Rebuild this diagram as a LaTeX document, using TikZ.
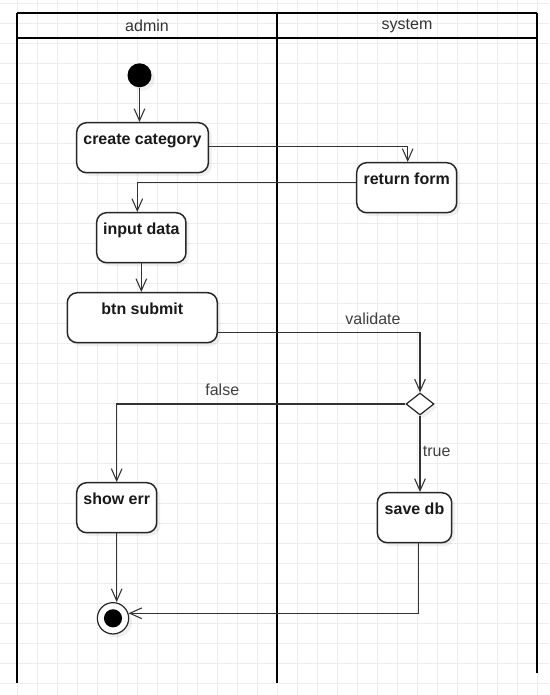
\documentclass[tikz,border=0pt]{standalone}
\usepackage{fontspec}
\setmainfont{Liberation Sans}
\usetikzlibrary{arrows.meta,shapes.geometric,shadows,calc}

\tikzset{every picture/.style={line width=0.75pt}}
\tikzset{
	gridline/.style={draw=black!7, line width=0.75pt},
	lane/.style={draw=black, line width=1.6pt},
	lanetext/.style={font=\fontsize{12}{14}\selectfont, text=black!80},
	act/.style={draw=black!85, fill=white, line width=1.1pt, rounded corners=7.5pt, inner sep=0pt,
		text height=16pt, text depth=21.5pt, font=\fontsize{12}{14}\selectfont\bfseries, text=black!90,
		drop shadow={shadow xshift=2.5pt, shadow yshift=-2.5pt, fill=black, opacity=0.06}},
	flow/.style={draw=black!80, line width=0.8pt, -{Straight Barb[length=9pt,width=8pt,line width=0.8pt]}},
	guard/.style={font=\fontsize{12}{14}\selectfont, text=black!75}
}

\begin{document}
\begin{tikzpicture}[x=0.75pt,y=0.75pt,yscale=-1,xscale=1]
	\useasboundingbox (0,0) rectangle (549,695);
	\fill[white] (0,0) rectangle (549,695);

	% grid
	\foreach \gx in {17.3,37.3,...,549} \draw[gridline] (\gx,0) -- (\gx,695);
	\foreach \gy in {3.3,23.3,...,695} \draw[gridline] (0,\gy) -- (549,\gy);

	% swimlanes
	\draw[lane] (17,13.3) -- (537,13.3);
	\draw[lane] (17,38.3) -- (537,38.3);
	\draw[lane] (17,13.3) -- (17,683);
	\draw[lane] (277,13.3) -- (277,683);
	\draw[lane] (537,13.3) -- (537,673);
	\node[lanetext] (adminlane) at (147,25.8) {admin};
	\node[lanetext] (systemlane) at (407,25.8) {system};

	% start / end
	\node[circle, fill=black, minimum size=18pt, inner sep=0pt,
		drop shadow={shadow xshift=2.5pt, shadow yshift=-2.5pt, fill=black, opacity=0.06}] (start) at (139.5,75.3) {};
	\node[circle, draw=black!85, fill=white, line width=0.9pt, minimum size=23.5pt, inner sep=0pt,
		drop shadow={shadow xshift=2.5pt, shadow yshift=-2.5pt, fill=black, opacity=0.06},
		path picture={\fill[black] (path picture bounding box.center) circle (6.8pt);}] (finish) at (113,618.3) {};

	% activities
	\node[act, minimum width=98.8pt] (create) at (142.5,147.7) {create category};
	\node[act, minimum width=75pt] (retform) at (406.7,187.7) {return form};
	\node[act, minimum width=67pt] (input) at (141.3,237.7) {input data};
	\node[act, minimum width=112.5pt] (submit) at (142.3,317.7) {btn submit};
	\node[act, minimum width=60pt] (showerr) at (116.7,507.7) {show err};
	\node[act, minimum width=55.8pt] (savedb) at (414.5,517.7) {save db};

	% decision
	\node[diamond, draw=black!85, fill=white, line width=0.9pt, minimum width=21pt, minimum height=16.5pt, inner sep=0pt,
		drop shadow={shadow xshift=2.5pt, shadow yshift=-2.5pt, fill=black, opacity=0.06}] (check) at (420,404) {};

	% flows
	\draw[flow] (start.south) -- (start.south |- create.north);
	\draw[flow] ($(create.east)+(0,-1)$) -| ($(retform.north)+(1,0)$);
	\draw[flow] ($(retform.west)+(0,-5)$) -| ($(input.north)+(-4,0)$);
	\draw[flow] (input.south) -- (input.south |- submit.north);
	\draw[flow] ($(submit.east)+(0,15)$) -| (check.north);
	\draw[flow] (check.west) -| (showerr.north);
	\draw[flow] (check.south) -- (check.south |- savedb.north);
	\draw[flow] (showerr.south) -- (showerr.south |- finish.north);
	\draw[flow] ($(savedb.south)+(4,0)$) |- (finish.18);

	% guards
	\node[guard] (validate) at (373,318.3) {validate};
	\node[guard] (false) at (222.3,389.3) {false};
	\node[guard] (true) at (436.7,451) {true};

\end{tikzpicture}
\end{document}
